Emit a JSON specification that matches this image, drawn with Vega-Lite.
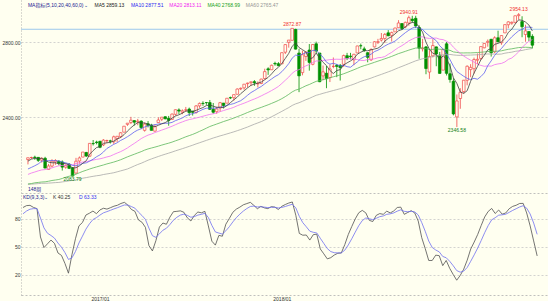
{
"$schema":"https://vega.github.io/schema/vega-lite/v6.json",
"background":"#FFFFF0",
"padding":0,
"spacing":0,
"bounds":"flush",
"config":{
 "view":{"stroke":null},
 "font":"Liberation Sans, Noto Sans CJK SC",
 "axis":{"labelFontSize":5,"labelColor":"#333333","ticks":false,"gridColor":"#C8C8C8","gridDash":[2,2],"gridWidth":0.8,"domainColor":"#A0A0A0","domainDash":[1,2],"domainWidth":0.8,"labelPadding":1}
},
"datasets":{
"w":[
{"i":0,"o":2173.1,"h":2182.9,"l":2147.6,"c":2182.87,"m5":2164.8,"m10":2123.0,"m20":2094.0,"m40":2043.2,"m60":2041.0,"k":92.0,"d":85.3},
{"i":1,"o":2183.7,"h":2188.5,"l":2177.0,"c":2184.05,"m5":2175.6,"m10":2131.5,"m20":2101.4,"m40":2045.3,"m60":2042.2,"k":94.0,"d":88.2},
{"i":2,"o":2186.1,"h":2193.8,"l":2172.0,"c":2183.87,"m5":2180.0,"m10":2140.3,"m20":2107.0,"m40":2049.4,"m60":2043.6,"k":94.3,"d":90.2},
{"i":3,"o":2185.0,"h":2186.8,"l":2160.4,"c":2169.04,"m5":2178.8,"m10":2150.1,"m20":2113.0,"m40":2051.4,"m60":2045.1,"k":92.1,"d":90.8},
{"i":4,"o":2170.2,"h":2184.9,"l":2157.1,"c":2179.98,"m5":2180.0,"m10":2164.4,"m20":2118.0,"m40":2053.6,"m60":2046.8,"k":90.8,"d":90.8},
{"i":5,"o":2180.0,"h":2187.9,"l":2127.8,"c":2127.81,"m5":2169.0,"m10":2166.9,"m20":2119.8,"m40":2054.5,"m60":2046.9,"k":60.5,"d":80.7},
{"i":6,"o":2120.9,"h":2149.8,"l":2119.1,"c":2139.16,"m5":2160.0,"m10":2167.8,"m20":2123.5,"m40":2057.7,"m60":2047.8,"k":49.2,"d":70.2},
{"i":7,"o":2138.7,"h":2175.3,"l":2131.9,"c":2164.69,"m5":2156.2,"m10":2168.1,"m20":2128.9,"m40":2061.7,"m60":2048.9,"k":53.2,"d":64.5},
{"i":8,"o":2160.9,"h":2175.3,"l":2145.0,"c":2168.27,"m5":2156.0,"m10":2167.4,"m20":2134.9,"m40":2064.3,"m60":2050.4,"k":57.2,"d":62.1},
{"i":9,"o":2164.3,"h":2169.6,"l":2142.6,"c":2153.74,"m5":2150.8,"m10":2165.4,"m20":2140.0,"m40":2067.1,"m60":2051.4,"k":53.7,"d":59.3},
{"i":10,"o":2160.4,"h":2169.0,"l":2114.7,"c":2132.98,"m5":2151.8,"m10":2160.4,"m20":2141.7,"m40":2072.4,"m60":2054.1,"k":43.4,"d":54.0},
{"i":11,"o":2132.5,"h":2148.4,"l":2124.4,"c":2141.16,"m5":2152.2,"m10":2156.1,"m20":2143.8,"m40":2078.9,"m60":2056.6,"k":40.8,"d":49.6},
{"i":12,"o":2148.5,"h":2154.8,"l":2122.5,"c":2126.41,"m5":2144.4,"m10":2150.3,"m20":2145.3,"m40":2084.4,"m60":2060.0,"k":32.2,"d":43.8},
{"i":13,"o":2129.8,"h":2133.5,"l":2083.79,"c":2085.18,"m5":2127.8,"m10":2141.9,"m20":2146.0,"m40":2088.0,"m60":2062.1,"k":21.8,"d":36.5},
{"i":14,"o":2101.4,"h":2182.3,"l":2097.2,"c":2164.45,"m5":2129.8,"m10":2140.3,"m20":2152.4,"m40":2095.1,"m60":2065.5,"k":41.7,"d":38.2},
{"i":15,"o":2165.6,"h":2189.9,"l":2151.1,"c":2181.90,"m5":2139.6,"m10":2145.7,"m20":2156.3,"m40":2103.0,"m60":2069.7,"k":58.6,"d":45.0},
{"i":16,"o":2186.4,"h":2213.4,"l":2186.4,"c":2213.35,"m5":2154.0,"m10":2153.1,"m20":2160.5,"m40":2110.4,"m60":2074.1,"k":72.4,"d":54.1},
{"i":17,"o":2211.1,"h":2214.1,"l":2187.4,"c":2191.95,"m5":2167.2,"m10":2155.8,"m20":2162.0,"m40":2116.5,"m60":2077.0,"k":76.0,"d":61.4},
{"i":18,"o":2191.1,"h":2259.8,"l":2187.9,"c":2259.53,"m5":2202.2,"m10":2165.0,"m20":2166.2,"m40":2123.0,"m60":2080.8,"k":84.0,"d":68.9},
{"i":19,"o":2258.8,"h":2277.5,"l":2248.4,"c":2258.07,"m5":2221.0,"m10":2175.4,"m20":2170.4,"m40":2128.9,"m60":2083.9,"k":85.9,"d":74.6},
{"i":20,"o":2266.5,"h":2273.8,"l":2254.3,"c":2263.79,"m5":2237.4,"m10":2188.5,"m20":2174.5,"m40":2134.2,"m60":2087.0,"k":88.2,"d":79.1},
{"i":21,"o":2270.5,"h":2273.4,"l":2233.6,"c":2238.83,"m5":2242.6,"m10":2198.3,"m20":2177.2,"m40":2139.3,"m60":2089.3,"k":85.4,"d":81.2},
{"i":22,"o":2251.6,"h":2282.1,"l":2245.1,"c":2276.98,"m5":2259.6,"m10":2213.4,"m20":2181.9,"m40":2144.4,"m60":2093.5,"k":89.4,"d":83.9},
{"i":23,"o":2273.6,"h":2279.3,"l":2260.8,"c":2274.64,"m5":2262.6,"m10":2232.4,"m20":2187.2,"m40":2150.1,"m60":2096.6,"k":91.2,"d":86.3},
{"i":24,"o":2272.7,"h":2279.0,"l":2258.6,"c":2271.31,"m5":2265.2,"m10":2243.1,"m20":2191.7,"m40":2154.8,"m60":2099.6,"k":90.3,"d":87.6},
{"i":25,"o":2267.8,"h":2301.0,"l":2257.0,"c":2294.69,"m5":2271.4,"m10":2254.4,"m20":2200.1,"m40":2159.9,"m60":2103.0,"k":91.8,"d":89.0},
{"i":26,"o":2286.0,"h":2298.3,"l":2267.2,"c":2297.42,"m5":2283.0,"m10":2262.8,"m20":2208.0,"m40":2165.7,"m60":2107.8,"k":93.4,"d":90.5},
{"i":27,"o":2295.9,"h":2319.2,"l":2288.9,"c":2316.10,"m5":2290.8,"m10":2275.2,"m20":2215.5,"m40":2172.2,"m60":2112.9,"k":94.4,"d":91.8},
{"i":28,"o":2319.2,"h":2351.3,"l":2319.2,"c":2351.16,"m5":2306.0,"m10":2284.3,"m20":2224.7,"m40":2179.8,"m60":2117.8,"k":96.3,"d":93.3},
{"i":29,"o":2361.1,"h":2367.3,"l":2352.9,"c":2367.34,"m5":2325.2,"m10":2295.2,"m20":2235.3,"m40":2187.7,"m60":2123.2,"k":97.5,"d":94.7},
{"i":30,"o":2370.7,"h":2401.0,"l":2362.6,"c":2383.12,"m5":2342.8,"m10":2307.1,"m20":2247.8,"m40":2194.8,"m60":2130.8,"k":94.5,"d":94.6},
{"i":31,"o":2380.9,"h":2383.9,"l":2354.5,"c":2372.60,"m5":2358.0,"m10":2320.5,"m20":2259.4,"m40":2201.6,"m60":2139.1,"k":89.9,"d":93.0},
{"i":32,"o":2374.4,"h":2390.0,"l":2356.2,"c":2378.25,"m5":2370.4,"m10":2330.6,"m20":2272.0,"m40":2208.7,"m60":2146.9,"k":87.9,"d":91.3},
{"i":33,"o":2378.2,"h":2382.6,"l":2335.7,"c":2343.98,"m5":2369.0,"m10":2337.5,"m20":2285.0,"m40":2215.5,"m60":2153.6,"k":78.7,"d":87.1},
{"i":34,"o":2329.1,"h":2370.4,"l":2322.3,"c":2362.72,"m5":2368.2,"m10":2346.7,"m20":2294.9,"m40":2223.6,"m60":2161.7,"k":76.3,"d":83.5},
{"i":35,"o":2363.8,"h":2378.4,"l":2344.7,"c":2355.54,"m5":2362.8,"m10":2352.8,"m20":2303.6,"m40":2230.0,"m60":2169.9,"k":70.8,"d":79.3},
{"i":36,"o":2357.2,"h":2363.8,"l":2328.9,"c":2328.95,"m5":2354.0,"m10":2356.0,"m20":2309.4,"m40":2234.9,"m60":2176.7,"k":51.3,"d":70.0},
{"i":37,"o":2324.7,"h":2361.4,"l":2322.7,"c":2348.69,"m5":2348.2,"m10":2359.3,"m20":2317.3,"m40":2239.6,"m60":2183.4,"k":45.6,"d":61.9},
{"i":38,"o":2370.3,"h":2398.2,"l":2370.3,"c":2384.20,"m5":2356.2,"m10":2362.6,"m20":2323.5,"m40":2244.8,"m60":2189.8,"k":56.6,"d":60.1},
{"i":39,"o":2388.5,"h":2399.3,"l":2378.5,"c":2399.29,"m5":2363.4,"m10":2365.8,"m20":2330.5,"m40":2250.5,"m60":2196.1,"k":71.1,"d":63.8},
{"i":40,"o":2401.6,"h":2403.9,"l":2387.3,"c":2390.90,"m5":2370.4,"m10":2366.6,"m20":2336.9,"m40":2255.7,"m60":2201.8,"k":75.4,"d":67.7},
{"i":41,"o":2393.0,"h":2405.8,"l":2353.8,"c":2381.73,"m5":2381.0,"m10":2367.5,"m20":2344.0,"m40":2260.6,"m60":2207.5,"k":74.1,"d":69.8},
{"i":42,"o":2387.2,"h":2418.7,"l":2387.2,"c":2415.82,"m5":2394.4,"m10":2371.3,"m20":2351.0,"m40":2266.4,"m60":2213.3,"k":81.7,"d":73.8},
{"i":43,"o":2414.5,"h":2440.2,"l":2407.7,"c":2439.07,"m5":2405.4,"m10":2380.8,"m20":2359.2,"m40":2273.2,"m60":2219.8,"k":87.5,"d":78.4},
{"i":44,"o":2437.8,"h":2446.2,"l":2415.7,"c":2431.77,"m5":2412.0,"m10":2387.7,"m20":2367.2,"m40":2279.5,"m60":2225.6,"k":87.9,"d":81.6},
{"i":45,"o":2425.9,"h":2441.0,"l":2415.0,"c":2433.15,"m5":2420.4,"m10":2395.4,"m20":2374.1,"m40":2287.1,"m60":2231.3,"k":88.4,"d":83.9},
{"i":46,"o":2437.0,"h":2453.8,"l":2428.8,"c":2438.30,"m5":2431.6,"m10":2406.3,"m20":2381.2,"m40":2294.6,"m60":2237.5,"k":86.9,"d":84.9},
{"i":47,"o":2442.5,"h":2450.4,"l":2405.7,"c":2423.41,"m5":2433.0,"m10":2413.7,"m20":2386.5,"m40":2301.0,"m60":2243.6,"k":80.9,"d":83.6},
{"i":48,"o":2431.4,"h":2432.3,"l":2407.7,"c":2425.18,"m5":2430.2,"m10":2417.8,"m20":2390.2,"m40":2307.4,"m60":2249.9,"k":77.6,"d":81.6},
{"i":49,"o":2424.5,"h":2463.5,"l":2418.0,"c":2459.27,"m5":2435.6,"m10":2423.8,"m20":2394.8,"m40":2315.1,"m60":2256.7,"k":83.6,"d":82.3},
{"i":50,"o":2459.5,"h":2477.6,"l":2449.1,"c":2472.54,"m5":2443.6,"m10":2432.0,"m20":2399.3,"m40":2323.6,"m60":2262.9,"k":87.2,"d":83.9},
{"i":51,"o":2473.0,"h":2484.0,"l":2459.9,"c":2472.10,"m5":2450.4,"m10":2441.0,"m20":2404.3,"m40":2331.8,"m60":2269.2,"k":86.3,"d":84.7},
{"i":52,"o":2477.1,"h":2478.5,"l":2464.9,"c":2476.83,"m5":2461.2,"m10":2447.1,"m20":2409.2,"m40":2340.6,"m60":2275.5,"k":87.9,"d":85.8},
{"i":53,"o":2477.1,"h":2490.9,"l":2437.8,"c":2441.32,"m5":2464.4,"m10":2447.3,"m20":2414.1,"m40":2349.5,"m60":2281.7,"k":72.3,"d":81.3},
{"i":54,"o":2441.0,"h":2474.9,"l":2417.4,"c":2425.55,"m5":2457.8,"m10":2446.7,"m20":2417.2,"m40":2356.1,"m60":2288.2,"k":56.0,"d":72.9},
{"i":55,"o":2428.5,"h":2454.8,"l":2417.4,"c":2443.05,"m5":2451.8,"m10":2447.7,"m20":2421.6,"m40":2362.6,"m60":2293.8,"k":51.8,"d":65.9},
{"i":56,"o":2447.9,"h":2480.4,"l":2428.2,"c":2476.55,"m5":2452.8,"m10":2451.6,"m20":2429.0,"m40":2369.2,"m60":2299.6,"k":62.2,"d":64.7},
{"i":57,"o":2474.4,"h":2475.0,"l":2446.6,"c":2461.43,"m5":2449.6,"m10":2455.4,"m20":2434.6,"m40":2375.9,"m60":2304.6,"k":61.3,"d":63.6},
{"i":58,"o":2474.0,"h":2500.2,"l":2474.0,"c":2500.23,"m5":2461.4,"m10":2462.9,"m20":2440.4,"m40":2381.9,"m60":2310.0,"k":74.2,"d":67.1},
{"i":59,"o":2503.3,"h":2508.9,"l":2496.1,"c":2502.22,"m5":2476.6,"m10":2467.2,"m20":2445.5,"m40":2388.0,"m60":2315.5,"k":80.3,"d":71.5},
{"i":60,"o":2503.3,"h":2519.4,"l":2488.0,"c":2519.36,"m5":2491.8,"m10":2471.8,"m20":2451.9,"m40":2394.4,"m60":2321.1,"k":86.9,"d":76.6},
{"i":61,"o":2521.2,"h":2552.5,"l":2521.2,"c":2549.33,"m5":2506.2,"m10":2479.5,"m20":2460.3,"m40":2402.1,"m60":2327.2,"k":90.3,"d":81.2},
{"i":62,"o":2550.2,"h":2557.6,"l":2543.8,"c":2553.17,"m5":2524.6,"m10":2487.1,"m20":2467.1,"m40":2409.0,"m60":2333.3,"k":92.4,"d":84.9},
{"i":63,"o":2555.6,"h":2575.4,"l":2545.5,"c":2575.21,"m5":2539.6,"m10":2500.5,"m20":2473.9,"m40":2416.5,"m60":2340.1,"k":94.9,"d":88.2},
{"i":64,"o":2578.1,"h":2583.0,"l":2557.1,"c":2581.07,"m5":2555.4,"m10":2516.0,"m20":2481.4,"m40":2424.3,"m60":2346.8,"k":96.2,"d":90.9},
{"i":65,"o":2583.2,"h":2588.4,"l":2566.2,"c":2587.84,"m5":2569.2,"m10":2530.5,"m20":2489.1,"m40":2431.6,"m60":2354.4,"k":97.5,"d":93.1},
{"i":66,"o":2588.7,"h":2597.0,"l":2566.3,"c":2582.30,"m5":2575.8,"m10":2541.0,"m20":2496.3,"m40":2438.7,"m60":2361.8,"k":94.3,"d":93.5},
{"i":67,"o":2576.5,"h":2590.1,"l":2557.5,"c":2578.85,"m5":2581.0,"m10":2552.8,"m20":2504.1,"m40":2445.3,"m60":2368.7,"k":90.7,"d":92.6},
{"i":68,"o":2579.1,"h":2604.2,"l":2575.3,"c":2602.42,"m5":2586.4,"m10":2563.0,"m20":2513.0,"m40":2451.6,"m60":2375.9,"k":93.2,"d":92.8},
{"i":69,"o":2605.0,"h":2657.7,"l":2600.1,"c":2642.22,"m5":2598.6,"m10":2577.0,"m20":2522.1,"m40":2458.5,"m60":2384.1,"k":91.6,"d":92.4},
{"i":70,"o":2657.2,"h":2665.2,"l":2624.8,"c":2651.50,"m5":2611.4,"m10":2590.3,"m20":2531.1,"m40":2465.2,"m60":2392.7,"k":90.8,"d":91.9},
{"i":71,"o":2652.2,"h":2679.6,"l":2652.2,"c":2675.81,"m5":2630.2,"m10":2603.0,"m20":2541.3,"m40":2472.8,"m60":2401.6,"k":92.9,"d":92.2},
{"i":72,"o":2685.9,"h":2695.0,"l":2673.6,"c":2683.34,"m5":2651.0,"m10":2616.0,"m20":2551.6,"m40":2480.4,"m60":2410.9,"k":92.4,"d":92.3},
{"i":73,"o":2684.2,"h":2692.7,"l":2673.6,"c":2673.61,"m5":2665.4,"m10":2625.9,"m20":2563.2,"m40":2488.6,"m60":2420.7,"k":89.9,"d":91.5},
{"i":74,"o":2683.7,"h":2743.5,"l":2682.4,"c":2743.15,"m5":2685.6,"m10":2642.1,"m20":2579.1,"m40":2498.1,"m60":2430.4,"k":93.3,"d":92.1},
{"i":75,"o":2745.6,"h":2787.9,"l":2736.0,"c":2786.24,"m5":2712.4,"m10":2661.9,"m20":2596.2,"m40":2508.9,"m60":2440.5,"k":95.2,"d":93.1},
{"i":76,"o":2798.4,"h":2810.3,"l":2769.9,"c":2810.30,"m5":2739.2,"m10":2684.7,"m20":2612.9,"m40":2520.9,"m60":2450.4,"k":96.8,"d":94.3},
{"i":77,"o":2809.2,"h":2872.87,"l":2808.1,"c":2872.87,"m5":2777.2,"m10":2714.1,"m20":2633.5,"m40":2534.0,"m60":2461.8,"k":97.9,"d":95.5},
{"i":78,"o":2867.2,"h":2870.6,"l":2760.0,"c":2762.13,"m5":2794.8,"m10":2730.1,"m20":2646.6,"m40":2543.5,"m60":2470.1,"k":83.7,"d":91.6},
{"i":79,"o":2741.1,"h":2763.4,"l":2532.7,"c":2619.55,"m5":2770.2,"m10":2727.9,"m20":2652.5,"m40":2549.0,"m60":2476.2,"k":64.3,"d":82.5},
{"i":80,"o":2636.8,"h":2754.4,"l":2622.4,"c":2732.22,"m5":2759.4,"m10":2735.9,"m20":2663.1,"m40":2557.5,"m60":2484.0,"k":62.4,"d":75.8},
{"i":81,"o":2723.0,"h":2747.8,"l":2699.3,"c":2747.30,"m5":2746.8,"m10":2743.0,"m20":2673.0,"m40":2566.6,"m60":2492.4,"k":62.6,"d":71.4},
{"i":82,"o":2757.4,"h":2789.2,"l":2647.3,"c":2691.25,"m5":2710.4,"m10":2743.8,"m20":2679.9,"m40":2573.5,"m60":2499.3,"k":57.2,"d":66.7},
{"i":83,"o":2681.1,"h":2786.6,"l":2675.8,"c":2786.57,"m5":2715.4,"m10":2755.1,"m20":2690.5,"m40":2582.2,"m60":2507.9,"k":63.0,"d":65.5},
{"i":84,"o":2790.5,"h":2801.9,"l":2741.4,"c":2752.01,"m5":2741.8,"m10":2756.0,"m20":2699.1,"m40":2590.2,"m60":2515.9,"k":63.5,"d":64.8},
{"i":85,"o":2741.4,"h":2741.4,"l":2585.9,"c":2588.26,"m5":2713.0,"m10":2736.2,"m20":2699.1,"m40":2594.1,"m60":2520.8,"k":47.7,"d":59.1},
{"i":86,"o":2619.4,"h":2674.8,"l":2596.1,"c":2640.87,"m5":2691.8,"m10":2719.3,"m20":2702.0,"m40":2599.2,"m60":2526.5,"k":42.5,"d":53.6},
{"i":87,"o":2633.5,"h":2672.1,"l":2553.8,"c":2604.47,"m5":2674.4,"m10":2692.4,"m20":2703.3,"m40":2603.7,"m60":2531.3,"k":37.1,"d":48.1},
{"i":88,"o":2610.3,"h":2680.3,"l":2586.5,"c":2656.30,"m5":2648.2,"m10":2681.8,"m20":2706.0,"m40":2609.5,"m60":2536.4,"k":38.4,"d":44.9},
{"i":89,"o":2670.1,"h":2717.5,"l":2660.1,"c":2670.14,"m5":2631.8,"m10":2686.8,"m20":2707.4,"m40":2614.7,"m60":2541.4,"k":41.2,"d":43.7},
{"i":90,"o":2675.4,"h":2682.9,"l":2612.7,"c":2669.91,"m5":2648.2,"m10":2680.6,"m20":2708.3,"m40":2619.7,"m60":2546.2,"k":43.1,"d":43.5},
{"i":91,"o":2675.5,"h":2682.9,"l":2594.6,"c":2663.42,"m5":2652.6,"m10":2672.2,"m20":2707.6,"m40":2624.4,"m60":2551.0,"k":43.4,"d":43.5},
{"i":92,"o":2680.8,"h":2732.9,"l":2667.4,"c":2727.72,"m5":2677.4,"m10":2675.9,"m20":2709.9,"m40":2630.7,"m60":2556.9,"k":52.3,"d":46.4},
{"i":93,"o":2727.1,"h":2742.1,"l":2703.6,"c":2712.97,"m5":2688.8,"m10":2668.5,"m20":2711.8,"m40":2637.5,"m60":2563.0,"k":63.1,"d":52.0},
{"i":94,"o":2725.0,"h":2742.2,"l":2707.4,"c":2721.33,"m5":2699.0,"m10":2665.4,"m20":2710.7,"m40":2644.9,"m60":2569.0,"k":71.7,"d":58.6},
{"i":95,"o":2705.0,"h":2736.9,"l":2676.8,"c":2734.62,"m5":2712.0,"m10":2680.1,"m20":2708.2,"m40":2652.2,"m60":2575.3,"k":79.9,"d":65.7},
{"i":96,"o":2741.7,"h":2779.9,"l":2741.7,"c":2779.03,"m5":2735.2,"m10":2693.9,"m20":2706.6,"m40":2659.7,"m60":2582.8,"k":86.4,"d":72.6},
{"i":97,"o":2780.2,"h":2791.5,"l":2761.3,"c":2779.66,"m5":2745.6,"m10":2711.5,"m20":2702.0,"m40":2667.7,"m60":2590.0,"k":88.9,"d":78.0},
{"i":98,"o":2763.4,"h":2775.0,"l":2747.3,"c":2754.88,"m5":2754.0,"m10":2721.4,"m20":2701.6,"m40":2674.1,"m60":2596.2,"k":86.3,"d":80.8},
{"i":99,"o":2742.9,"h":2746.1,"l":2692.0,"c":2718.37,"m5":2753.4,"m10":2726.2,"m20":2706.5,"m40":2679.5,"m60":2601.5,"k":78.3,"d":80.0},
{"i":100,"o":2705.0,"h":2766.5,"l":2699.0,"c":2759.82,"m5":2758.4,"m10":2735.2,"m20":2707.9,"m40":2685.5,"m60":2607.6,"k":77.0,"d":79.0},
{"i":101,"o":2774.0,"h":2804.5,"l":2770.8,"c":2801.31,"m5":2762.8,"m10":2749.0,"m20":2710.6,"m40":2691.8,"m60":2614.6,"k":83.6,"d":80.5},
{"i":102,"o":2798.4,"h":2816.8,"l":2789.2,"c":2801.83,"m5":2767.2,"m10":2756.4,"m20":2716.2,"m40":2698.0,"m60":2621.1,"k":85.5,"d":82.2},
{"i":103,"o":2810.4,"h":2848.0,"l":2802.5,"c":2818.82,"m5":2780.0,"m10":2767.0,"m20":2717.8,"m40":2704.1,"m60":2627.4,"k":84.7,"d":83.0},
{"i":104,"o":2819.0,"h":2848.1,"l":2795.1,"c":2840.35,"m5":2804.4,"m10":2778.9,"m20":2722.2,"m40":2710.6,"m60":2634.2,"k":88.1,"d":84.7},
{"i":105,"o":2849.0,"h":2863.4,"l":2830.9,"c":2833.28,"m5":2819.0,"m10":2788.7,"m20":2734.4,"m40":2716.7,"m60":2640.9,"k":86.2,"d":85.2},
{"i":106,"o":2835.5,"h":2855.6,"l":2802.5,"c":2850.13,"m5":2828.8,"m10":2795.8,"m20":2744.9,"m40":2723.4,"m60":2647.7,"k":88.3,"d":86.2},
{"i":107,"o":2853.9,"h":2876.2,"l":2853.9,"c":2874.69,"m5":2843.4,"m10":2805.3,"m20":2758.4,"m40":2730.8,"m60":2655.3,"k":92.0,"d":88.1},
{"i":108,"o":2876.2,"h":2916.5,"l":2876.2,"c":2901.52,"m5":2860.0,"m10":2820.0,"m20":2770.7,"m40":2738.3,"m60":2663.2,"k":92.4,"d":89.5},
{"i":109,"o":2898.4,"h":2900.2,"l":2864.1,"c":2871.68,"m5":2866.4,"m10":2835.4,"m20":2780.8,"m40":2744.1,"m60":2670.1,"k":84.7,"d":87.9},
{"i":110,"o":2880.8,"h":2908.3,"l":2874.0,"c":2904.98,"m5":2880.8,"m10":2849.9,"m20":2792.6,"m40":2750.4,"m60":2677.3,"k":86.7,"d":87.5},
{"i":111,"o":2901.5,"h":2940.91,"l":2886.9,"c":2929.67,"m5":2896.8,"m10":2862.8,"m20":2805.9,"m40":2756.8,"m60":2684.9,"k":88.6,"d":87.9},
{"i":112,"o":2921.8,"h":2939.9,"l":2903.3,"c":2913.98,"m5":2904.6,"m10":2874.0,"m20":2815.2,"m40":2762.5,"m60":2692.2,"k":86.2,"d":87.3},
{"i":113,"o":2926.3,"h":2939.9,"l":2874.3,"c":2885.57,"m5":2901.4,"m10":2880.7,"m20":2823.9,"m40":2767.8,"m60":2699.6,"k":77.5,"d":84.0},
{"i":114,"o":2877.5,"h":2889.1,"l":2710.5,"c":2767.13,"m5":2880.4,"m10":2873.4,"m20":2826.2,"m40":2768.4,"m60":2705.3,"k":59.8,"d":75.9},
{"i":115,"o":2763.8,"h":2816.9,"l":2749.6,"c":2767.78,"m5":2853.0,"m10":2866.9,"m20":2827.8,"m40":2768.0,"m60":2710.7,"k":48.1,"d":66.6},
{"i":116,"o":2773.9,"h":2778.9,"l":2628.2,"c":2658.69,"m5":2798.8,"m10":2847.8,"m20":2821.8,"m40":2764.2,"m60":2713.8,"k":35.4,"d":56.2},
{"i":117,"o":2640.0,"h":2756.6,"l":2603.5,"c":2723.06,"m5":2760.6,"m10":2832.6,"m20":2819.0,"m40":2760.5,"m60":2718.1,"k":35.4,"d":49.3},
{"i":118,"o":2726.4,"h":2815.2,"l":2717.9,"c":2781.01,"m5":2739.6,"m10":2820.5,"m20":2820.3,"m40":2760.9,"m60":2722.8,"k":41.1,"d":46.6},
{"i":119,"o":2773.9,"h":2776.0,"l":2670.8,"c":2736.27,"m5":2733.4,"m10":2806.9,"m20":2821.2,"m40":2763.8,"m60":2726.7,"k":40.5,"d":44.6},
{"i":120,"o":2730.1,"h":2747.0,"l":2631.1,"c":2632.56,"m5":2706.4,"m10":2779.7,"m20":2814.8,"m40":2761.4,"m60":2728.6,"k":29.9,"d":39.7},
{"i":121,"o":2650.0,"h":2760.9,"l":2650.0,"c":2760.17,"m5":2726.6,"m10":2762.7,"m20":2812.8,"m40":2761.7,"m60":2732.1,"k":35.4,"d":38.3},
{"i":122,"o":2790.5,"h":2800.2,"l":2621.5,"c":2633.08,"m5":2708.6,"m10":2734.6,"m20":2804.3,"m40":2760.2,"m60":2733.5,"k":27.0,"d":34.5},
{"i":123,"o":2630.9,"h":2685.4,"l":2583.2,"c":2599.95,"m5":2672.4,"m10":2706.0,"m20":2793.4,"m40":2755.6,"m60":2733.9,"k":20.4,"d":29.8},
{"i":124,"o":2590.8,"h":2607.1,"l":2409.0,"c":2416.62,"m5":2608.6,"m10":2671.0,"m20":2772.2,"m40":2747.2,"m60":2731.1,"k":14.3,"d":24.6},
{"i":125,"o":2400.6,"h":2520.3,"l":2346.58,"c":2485.74,"m5":2579.2,"m10":2642.8,"m20":2754.9,"m40":2744.6,"m60":2729.4,"k":19.4,"d":22.9},
{"i":126,"o":2498.8,"h":2553.8,"l":2444.0,"c":2531.94,"m5":2533.6,"m10":2630.1,"m20":2739.0,"m40":2741.9,"m60":2728.6,"k":26.1,"d":24.0},
{"i":127,"o":2535.6,"h":2597.8,"l":2524.6,"c":2596.26,"m5":2526.2,"m10":2617.4,"m20":2725.0,"m40":2741.7,"m60":2728.9,"k":35.7,"d":27.9},
{"i":128,"o":2596.0,"h":2675.5,"l":2569.0,"c":2670.71,"m5":2540.4,"m10":2606.4,"m20":2713.5,"m40":2742.1,"m60":2730.0,"k":47.6,"d":34.5},
{"i":129,"o":2653.0,"h":2681.8,"l":2612.7,"c":2664.76,"m5":2590.0,"m10":2599.3,"m20":2703.1,"m40":2742.0,"m60":2730.4,"k":55.1,"d":41.4},
{"i":130,"o":2657.9,"h":2716.7,"l":2631.1,"c":2706.53,"m5":2634.2,"m10":2606.7,"m20":2693.2,"m40":2742.9,"m60":2731.3,"k":63.2,"d":48.7},
{"i":131,"o":2703.0,"h":2739.0,"l":2681.8,"c":2707.88,"m5":2669.4,"m10":2601.5,"m20":2682.1,"m40":2744.0,"m60":2731.9,"k":72.8,"d":56.7},
{"i":132,"o":2712.4,"h":2775.7,"l":2704.1,"c":2775.60,"m5":2705.4,"m10":2615.8,"m20":2675.2,"m40":2745.2,"m60":2733.4,"k":81.9,"d":65.1},
{"i":133,"o":2769.3,"h":2795.0,"l":2766.3,"c":2792.67,"m5":2729.8,"m10":2635.1,"m20":2670.6,"m40":2747.2,"m60":2735.4,"k":87.8,"d":72.7},
{"i":134,"o":2798.2,"h":2813.5,"l":2775.1,"c":2803.69,"m5":2757.6,"m10":2673.8,"m20":2672.4,"m40":2749.3,"m60":2736.4,"k":91.0,"d":78.8},
{"i":135,"o":2814.4,"h":2816.9,"l":2722.3,"c":2743.07,"m5":2764.8,"m10":2699.5,"m20":2671.2,"m40":2749.5,"m60":2735.7,"k":85.6,"d":81.1},
{"i":136,"o":2747.6,"h":2830.7,"l":2741.1,"c":2822.48,"m5":2787.6,"m10":2728.5,"m20":2679.3,"m40":2750.6,"m60":2735.9,"k":89.3,"d":83.8},
{"i":137,"o":2822.6,"h":2860.3,"l":2800.7,"c":2800.71,"m5":2792.6,"m10":2749.0,"m20":2683.2,"m40":2751.1,"m60":2734.7,"k":84.9,"d":84.2},
{"i":138,"o":2796.0,"h":2836.0,"l":2785.0,"c":2834.40,"m5":2800.8,"m10":2765.3,"m20":2685.9,"m40":2753.1,"m60":2735.9,"k":86.1,"d":84.8},
{"i":139,"o":2848.6,"h":2893.4,"l":2848.6,"c":2892.74,"m5":2818.6,"m10":2788.1,"m20":2693.7,"m40":2757.4,"m60":2740.5,"k":90.7,"d":86.8},
{"i":140,"o":2892.2,"h":2910.5,"l":2873.3,"c":2907.41,"m5":2851.4,"m10":2808.1,"m20":2707.4,"m40":2761.1,"m60":2743.4,"k":93.2,"d":88.9},
{"i":141,"o":2900.3,"h":2909.6,"l":2891.9,"c":2905.03,"m5":2868.0,"m10":2827.8,"m20":2714.7,"m40":2763.7,"m60":2746.0,"k":94.4,"d":90.7},
{"i":142,"o":2904.8,"h":2939.9,"l":2898.4,"c":2939.88,"m5":2895.8,"m10":2844.2,"m20":2730.0,"m40":2767.2,"m60":2750.2,"k":96.3,"d":92.6},
{"i":143,"o":2940.6,"h":2954.13,"l":2919.4,"c":2945.64,"m5":2918.2,"m10":2859.5,"m20":2747.3,"m40":2770.3,"m60":2752.8,"k":96.4,"d":93.9},
{"i":144,"o":2908.9,"h":2937.3,"l":2825.4,"c":2881.40,"m5":2915.8,"m10":2867.2,"m20":2770.5,"m40":2771.4,"m60":2755.0,"k":86.2,"d":91.3},
{"i":145,"o":2840.2,"h":2892.2,"l":2801.4,"c":2859.53,"m5":2906.4,"m10":2878.9,"m20":2789.2,"m40":2772.0,"m60":2759.5,"k":72.3,"d":85.0},
{"i":146,"o":2856.1,"h":2856.1,"l":2805.5,"c":2826.06,"m5":2890.6,"m10":2879.3,"m20":2803.9,"m40":2771.4,"m60":2762.6,"k":56.3,"d":75.4},
{"i":147,"o":2830.0,"h":2841.4,"l":2766.2,"c":2783.02,"m5":2859.13,"m10":2877.51,"m20":2813.11,"m40":2768.99,"m60":2765.47,"k":40.25,"d":63.33}
],
"peaks":[
{"i":13,"v":2083.79,"t":"2083.79","side":"low"},
{"i":77,"v":2872.87,"t":"2872.87","side":"high"},
{"i":111,"v":2940.91,"t":"2940.91","side":"high"},
{"i":125,"v":2346.58,"t":"2346.58","side":"low"},
{"i":143,"v":2954.13,"t":"2954.13","side":"high"}
]
},
"vconcat":[
{
"width":527,"height":193,
"layer":[
{"data":{"values":[{"t":"line"}]},"mark":{"type":"rule","color":"#9CC8EC","strokeWidth":1},"encoding":{"y":{"datum":2868,"type":"quantitative","scale":{"domain":[1995,3024],"nice":false,"zero":false}}}},
{"data":{"name":"w"},"mark":{"type":"rule","strokeWidth":0.8},
 "encoding":{"x":{"field":"i","type":"quantitative","title":null,"scale":{"domain":[-0.57,150.1],"nice":false,"zero":false},"axis":{"labels":false,"grid":false,"domainDash":[2,2],"domainColor":"#B0B0B0"}},
 "y":{"field":"l","type":"quantitative","title":null,"scale":{"domain":[1995,3024],"nice":false,"zero":false},"axis":{"values":[2400,2800],"format":".2f","grid":true,"minExtent":21,"maxExtent":21}},"y2":{"field":"h"},
 "color":{"condition":{"test":"datum.c >= datum.o","value":"#F04848"},"value":"#009000"}}},
{"data":{"name":"w"},"mark":{"type":"bar","size":2.6,"strokeWidth":0.7},
 "encoding":{"x":{"field":"i","type":"quantitative"},"y":{"field":"o","type":"quantitative","title":null},"y2":{"field":"c"},
 "fill":{"condition":{"test":"datum.c >= datum.o","value":"#FFFFF0"},"value":"#009000"},
 "stroke":{"condition":{"test":"datum.c >= datum.o","value":"#F04848"},"value":"#009000"}}},
{"data":{"name":"w"},"mark":{"type":"line","color":"#A8A8A8","strokeWidth":0.8},"encoding":{"x":{"field":"i","type":"quantitative"},"y":{"field":"m60","type":"quantitative","title":null}}},
{"data":{"name":"w"},"mark":{"type":"line","color":"#5CB85C","strokeWidth":0.8},"encoding":{"x":{"field":"i","type":"quantitative"},"y":{"field":"m40","type":"quantitative","title":null}}},
{"data":{"name":"w"},"mark":{"type":"line","color":"#F070F0","strokeWidth":0.8},"encoding":{"x":{"field":"i","type":"quantitative"},"y":{"field":"m20","type":"quantitative","title":null}}},
{"data":{"name":"w"},"mark":{"type":"line","color":"#6060F0","strokeWidth":0.8},"encoding":{"x":{"field":"i","type":"quantitative"},"y":{"field":"m10","type":"quantitative","title":null}}},
{"data":{"name":"w"},"mark":{"type":"line","color":"#404040","strokeWidth":0.8},"encoding":{"x":{"field":"i","type":"quantitative"},"y":{"field":"m5","type":"quantitative","title":null}}},
{"data":{"name":"peaks"},"transform":[{"filter":"datum.side == 'high'"}],"mark":{"type":"text","color":"#F03030","fontSize":5,"baseline":"bottom","dy":-1},"encoding":{"x":{"field":"i","type":"quantitative"},"y":{"field":"v","type":"quantitative","title":null},"text":{"field":"t"}}},
{"data":{"name":"peaks"},"transform":[{"filter":"datum.side == 'low'"}],"mark":{"type":"text","color":"#108010","fontSize":5,"baseline":"top","dy":1},"encoding":{"x":{"field":"i","type":"quantitative"},"y":{"field":"v","type":"quantitative","title":null},"text":{"field":"t"}}},
{"data":{"values":[{"t":"MA指标(5,10,20,40,60,0)⌄"}]},"mark":{"type":"text","align":"left","baseline":"middle","fontSize":5,"color":"#202090"},"encoding":{"x":{"datum":0},"y":{"datum":2997},"text":{"field":"t"}}},
{"data":{"values":[{"t":"MA5 2859.13"}]},"mark":{"type":"text","align":"left","baseline":"middle","fontSize":5,"color":"#202020"},"encoding":{"x":{"datum":19.4},"y":{"datum":2997},"text":{"field":"t"}}},
{"data":{"values":[{"t":"MA10 2877.51"}]},"mark":{"type":"text","align":"left","baseline":"middle","fontSize":5,"color":"#2828F0","text":"MA10 2877.51"},"encoding":{"x":{"datum":30.0,"type":"quantitative"},"y":{"datum":2997,"type":"quantitative"}}},
{"data":{"values":[{"t":"MA20 2813.11"}]},"mark":{"type":"text","align":"left","baseline":"middle","fontSize":5,"color":"#F020F0"},"encoding":{"x":{"datum":41.2},"y":{"datum":2997},"text":{"field":"t"}}},
{"data":{"values":[{"t":"MA40 2768.99"}]},"mark":{"type":"text","align":"left","baseline":"middle","fontSize":5,"color":"#20A020"},"encoding":{"x":{"datum":52.3},"y":{"datum":2997},"text":{"field":"t"}}},
{"data":{"values":[{"t":"MA60 2765.47"}]},"mark":{"type":"text","align":"left","baseline":"middle","fontSize":5,"color":"#959595"},"encoding":{"x":{"datum":63.5},"y":{"datum":2997},"text":{"field":"t"}}},
{"data":{"values":[{"t":"148周"}]},"mark":{"type":"text","align":"left","baseline":"middle","fontSize":5,"color":"#202090"},"encoding":{"x":{"datum":0},"y":{"datum":2016},"text":{"field":"t"}}}
]
},
{
"width":527,"height":102,
"layer":[
{"data":{"name":"w"},"mark":{"type":"line","color":"#505050","strokeWidth":0.8},"encoding":{"x":{"field":"i","type":"quantitative","title":null,"scale":{"domain":[-0.57,150.1],"nice":false,"zero":false},"axis":{"values":[22,74],"labelExpr":"datum.value == 22 ? '2017/01' : '2018/01'","grid":false,"domainDash":[2,2],"domainColor":"#B0B0B0"}},"y":{"field":"k","type":"quantitative","title":null,"scale":{"domain":[-1.5,107.5],"nice":false,"zero":false},"axis":{"values":[20,50,80],"grid":true,"minExtent":21,"maxExtent":21}}}},
{"data":{"name":"w"},"mark":{"type":"line","color":"#7070F0","strokeWidth":0.8},"encoding":{"x":{"field":"i","type":"quantitative"},"y":{"field":"d","type":"quantitative","title":null}}},
{"data":{"values":[{"t":"KD(9,3,3)⌄"}]},"mark":{"type":"text","align":"left","baseline":"middle","fontSize":5,"color":"#202090"},"encoding":{"x":{"datum":0},"y":{"datum":103.2},"text":{"field":"t"}}},
{"data":{"values":[{"t":"K 40.25"}]},"mark":{"type":"text","align":"left","baseline":"middle","fontSize":5,"color":"#303030"},"encoding":{"x":{"datum":8.6},"y":{"datum":103.2},"text":{"field":"t"}}},
{"data":{"values":[{"t":"D 63.33"}]},"mark":{"type":"text","align":"left","baseline":"middle","fontSize":5,"color":"#3030F0"},"encoding":{"x":{"datum":16.0},"y":{"datum":103.2},"text":{"field":"t"}}}
]
}
]
}
